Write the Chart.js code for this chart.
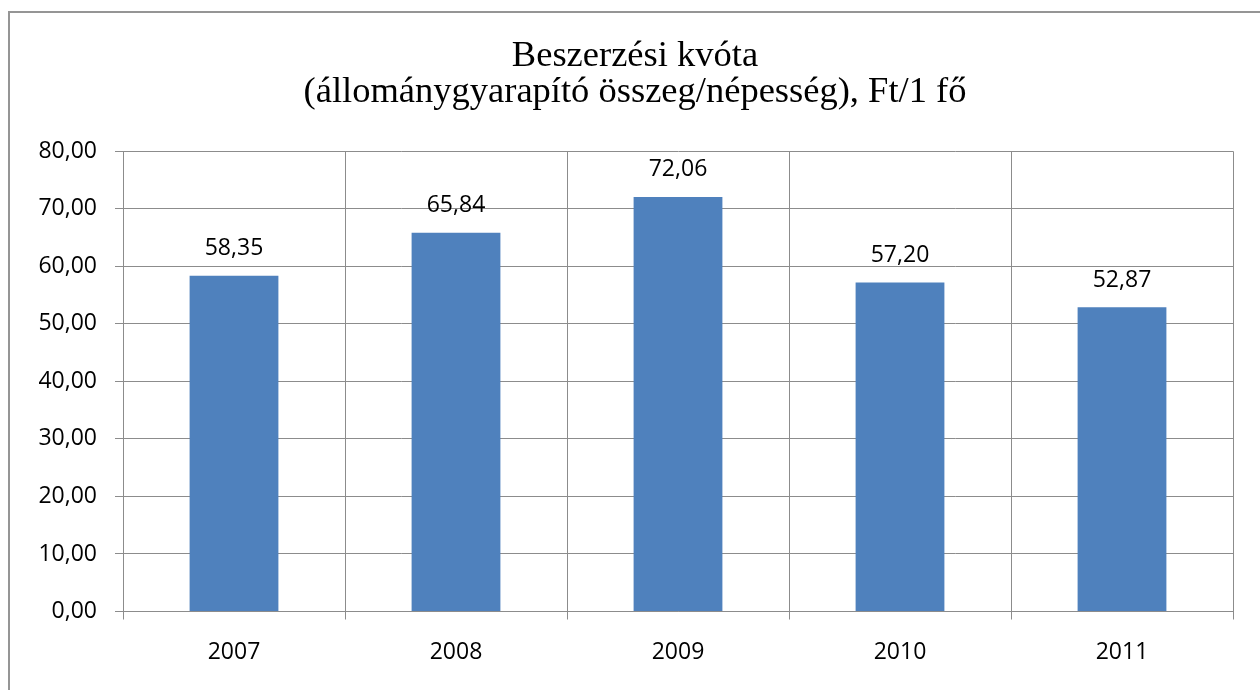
<!DOCTYPE html>
<html>
<head>
<meta charset="utf-8">
<script src="https://cdn.jsdelivr.net/npm/chart.js@4.4.1/dist/chart.umd.min.js"></script>
<style>
  html, body { margin: 0; padding: 0; background: #ffffff; overflow: hidden; }
  #wrap { position: relative; width: 1260px; height: 690px; }
  #frame { position: absolute; left: 8px; top: 11px; width: 1300px; height: 800px;
           border-left: 2px solid #959595; border-top: 2px solid #959595; pointer-events: none; }
  canvas { position: absolute; left: 0; top: 0; }
</style>
</head>
<body>
<div id="wrap">
  <canvas id="c" width="1260" height="690"></canvas>
  <div id="frame"></div>
</div>
<script>
const titleLines = ["Beszerzési kvóta", "(állománygyarapító összeg/népesség), Ft/1 fő"];
const categories = ["2007", "2008", "2009", "2010", "2011"];
const values = [58.35, 65.84, 72.06, 57.20, 52.87];
const yMin = 0;
const yMax = 80;
const yStep = 10;

const fmt = v => v.toFixed(2).replace('.', ',');
const sansFont = "'Open Sans', 'Liberation Sans', sans-serif";
const gridColor = '#8c8c8c';

const valueLabels = {
  id: 'valueLabels',
  afterDatasetsDraw(chart) {
    const ctx = chart.ctx;
    const meta = chart.getDatasetMeta(0);
    ctx.save();
    ctx.font = "23px " + sansFont;
    ctx.fillStyle = '#000000';
    ctx.textAlign = 'center';
    ctx.textBaseline = 'middle';
    meta.data.forEach((bar, i) => {
      ctx.fillText(fmt(values[i]), bar.x, bar.y - 27);
    });
    ctx.restore();
  }
};

new Chart(document.getElementById('c'), {
  type: 'bar',
  data: {
    labels: categories,
    datasets: [{
      data: values,
      backgroundColor: '#4F81BD',
      borderWidth: 0,
      barPercentage: 0.4,
      categoryPercentage: 1.0
    }]
  },
  options: {
    responsive: false,
    animation: false,
    layout: { padding: { left: 37, right: 27, top: 0, bottom: 0 } },
    plugins: {
      legend: { display: false },
      tooltip: { enabled: false },
      title: {
        display: true,
        text: titleLines,
        color: '#000000',
        font: { family: "'Liberation Serif', 'Times New Roman', serif", size: 36.5, weight: 'normal', lineHeight: 0.99 },
        padding: { top: 38, bottom: 41 }
      }
    },
    scales: {
      x: {
        offset: true,
        grid: { display: true, offset: true, color: gridColor, lineWidth: 1, drawTicks: true, tickLength: 8, tickColor: gridColor },
        border: { display: true, color: gridColor, width: 1 },
        ticks: { color: '#000000', font: { family: sansFont, size: 23 }, padding: 19, maxRotation: 0 },
        afterFit(scale) { scale.height = 78.5; }
      },
      y: {
        min: yMin,
        max: yMax,
        grid: { color: gridColor, lineWidth: 1, drawTicks: true, tickLength: 8, tickColor: gridColor },
        border: { display: true, color: gridColor, width: 1 },
        ticks: {
          stepSize: yStep,
          color: '#000000',
          font: { family: sansFont, size: 23 },
          padding: 18,
          callback: v => fmt(v)
        },
        afterFit(scale) { scale.width = 86; }
      }
    }
  },
  plugins: [valueLabels]
});
</script>
</body>
</html>
